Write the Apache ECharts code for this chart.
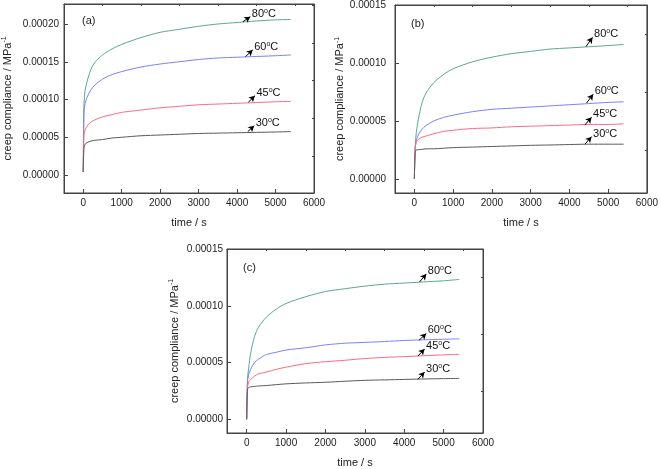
<!DOCTYPE html>
<html>
<head>
<meta charset="utf-8">
<script src="https://cdn.jsdelivr.net/npm/echarts@6/dist/echarts.min.js"></script>
<style>html,body{margin:0;padding:0;background:#fff;}#c{width:661px;height:469px;}</style>
</head>
<body>
<div id="c"></div>
<script>
// ---- data ----
var times = [0, 20, 50, 100, 200, 300, 500, 750, 1000, 1500, 2000, 2500, 3000, 3500, 4000, 4500, 5000, 5400];
var seriesNames = ['80', '60', '45', '30'];

var a80 = [0.000004, 0.000095, 0.000112, 0.000124, 0.000140, 0.000149, 0.000159, 0.000167, 0.000173, 0.000182, 0.000189, 0.000193, 0.000197, 0.000200, 0.000202, 0.000204, 0.0002055, 0.000206];
var a60 = [0.000004, 0.000085, 0.000095, 0.000103, 0.000113, 0.000119, 0.000127, 0.000133, 0.000137, 0.000143, 0.000147, 0.000150, 0.000153, 0.000155, 0.000156, 0.000157, 0.000158, 0.000159];
var a45 = [0.000004, 0.000052, 0.000060, 0.000065, 0.000070, 0.000073, 0.000077, 0.000080, 0.000083, 0.000086, 0.000089, 0.000091, 0.000093, 0.000094, 0.000095, 0.000096, 0.000097, 0.0000975];
var a30 = [0.000004, 0.000036, 0.000041, 0.000043, 0.000045, 0.000046, 0.000047, 0.000049, 0.000050, 0.000052, 0.000053, 0.000054, 0.000055, 0.0000555, 0.000056, 0.0000565, 0.000057, 0.0000575];

var b80 = [0, 0.000028, 0.000040, 0.000051, 0.000066, 0.000074, 0.000083, 0.000090, 0.000095, 0.000101, 0.000105, 0.000108, 0.000110, 0.000112, 0.000113, 0.000114, 0.000115, 0.000116];
var b60 = [0, 0.000026, 0.000033, 0.000038, 0.000043, 0.000046, 0.000050, 0.000053, 0.000055, 0.000058, 0.000060, 0.000061, 0.000062, 0.000063, 0.000064, 0.000065, 0.000066, 0.0000665];
var b45 = [0, 0.000026, 0.000032, 0.000034, 0.000036, 0.000037, 0.000039, 0.000041, 0.000042, 0.0000435, 0.000044, 0.000045, 0.0000455, 0.000046, 0.0000465, 0.000047, 0.000047, 0.0000475];
var b30 = [0, 0.000022, 0.000025, 0.0000252, 0.0000255, 0.000026, 0.000026, 0.0000265, 0.000027, 0.0000275, 0.000028, 0.0000285, 0.000029, 0.0000293, 0.0000297, 0.00003, 0.00003, 0.00003];

var c80 = [0, 0.000035, 0.000045, 0.000058, 0.000073, 0.000081, 0.000090, 0.000097, 0.000102, 0.000108, 0.0001125, 0.000115, 0.0001173, 0.000119, 0.000120, 0.000121, 0.000122, 0.0001232];
var c60 = [0, 0.000033, 0.000039, 0.000044, 0.000050, 0.000053, 0.000057, 0.000059, 0.000061, 0.000063, 0.0000655, 0.000067, 0.0000677, 0.0000685, 0.0000694, 0.000070, 0.0000705, 0.0000708];
var c45 = [0, 0.000027, 0.000033, 0.000035, 0.000038, 0.000040, 0.0000416, 0.000044, 0.0000459, 0.000049, 0.0000507, 0.000052, 0.0000535, 0.0000545, 0.0000552, 0.000056, 0.0000567, 0.0000572];
var c30 = [0, 0.000026, 0.000028, 0.0000285, 0.000029, 0.0000293, 0.0000297, 0.0000305, 0.0000312, 0.000032, 0.0000326, 0.0000335, 0.0000343, 0.0000347, 0.0000351, 0.0000355, 0.0000358, 0.000036];

// annotation arrows: [tFrom, vFrom, tTo, vTo]
var arrowsA = [[4150, 0.000203, 4344, 0.0002097], [4217, 0.0001567, 4406, 0.0001656], [4293, 0.0000965, 4464, 0.000105], [4278, 0.0000575, 4446, 0.0000653]];
var arrowsB = [[4427, 0.0001141, 4598, 0.0001221], [4444, 0.0000655, 4615, 0.000073], [4400, 0.0000466, 4573, 0.0000532], [4400, 0.0000300, 4573, 0.0000365]];
var arrowsC = [[4390, 0.0001210, 4560, 0.000128], [4373, 0.0000695, 4559, 0.0000756], [4347, 0.0000556, 4517, 0.000062], [4347, 0.0000352, 4517, 0.0000416]];

var panelLabels = ['(a)', '(b)', '(c)'];
var xMajor = [0, 1000, 2000, 3000, 4000, 5000, 6000];
var xMinor = [500, 1500, 2500, 3500, 4500, 5500];
var yMajorA = [0, 0.00005, 0.0001, 0.00015, 0.0002];
var yMinorA = [0.000025, 0.000075, 0.000125, 0.000175, 0.000225];
var yMajorBC = [0, 0.00005, 0.0001, 0.00015];
var yMinorBC = [0.000025, 0.000075, 0.000125];

// ---- styling ----
var colors = ['#5aa88a', '#7a80ff', '#ff6a80', '#5a5a5a'];
var FONT = '"Liberation Sans", Arial, sans-serif';
var axisCol = '#444';

var panels = [
  {grid: {left: 60, top: 4, width: 254, height: 189}, ymin: -0.0000238, ymax: 0.0002265, yMajor: yMajorA, yMinor: yMinorA, data: [a80, a60, a45, a30], arrows: arrowsA, yGap: 50, yLabMargin: 5, lab: [82, 22]},
  {grid: {left: 395, top: 5, width: 256, height: 188}, ymin: -0.0000121, ymax: 0.00015, yMajor: yMajorBC, yMinor: yMinorBC, data: [b80, b60, b45, b30], arrows: arrowsB, yGap: 48, yLabMargin: 9, lab: [411, 25]},
  {grid: {left: 227, top: 249, width: 256, height: 191}, ymin: -0.0000121, ymax: 0.00015, yMajor: yMajorBC, yMinor: yMinorBC, data: [c80, c60, c45, c30], arrows: arrowsC, yGap: 46, yLabMargin: 4, lab: [243, 269]}
];

var grids = [], xAxes = [], yAxes = [], series = [], graphics = [];
panels.forEach(function (p, i) {
  grids.push(Object.assign({show: true, borderColor: axisCol, borderWidth: 1, containLabel: false}, p.grid));
  var xBase = {
    type: 'value', gridIndex: i, min: -500, max: 6000,
    axisLine: {show: true, onZero: false, lineStyle: {color: axisCol, width: 1}},
    splitLine: {show: false}
  };
  xAxes.push(Object.assign({}, xBase, {
    name: 'time / s', nameLocation: 'middle', nameGap: 24,
    nameTextStyle: {fontFamily: FONT, fontSize: 11, color: '#222'},
    axisTick: {show: true, inside: true, length: 4, customValues: xMajor, lineStyle: {color: axisCol}},
    axisLabel: {show: true, customValues: xMajor, margin: 5, fontFamily: FONT, fontSize: 10, color: '#222',
      formatter: function (v) { return String(v); }}
  }));
  xAxes.push(Object.assign({}, xBase, {
    axisTick: {show: true, inside: true, length: 2, customValues: xMinor, lineStyle: {color: axisCol}},
    axisLabel: {show: false}
  }));
  var yBase = {
    type: 'value', gridIndex: i, min: p.ymin, max: p.ymax,
    axisLine: {show: true, onZero: false, lineStyle: {color: axisCol, width: 1}},
    splitLine: {show: false}
  };
  yAxes.push(Object.assign({}, yBase, {
    name: 'creep compliance / MPa{sup|-1}', nameLocation: 'middle', nameGap: p.yGap,
    nameTextStyle: {fontFamily: FONT, fontSize: 11, color: '#222',
      rich: {sup: {fontFamily: FONT, fontSize: 7, color: '#222', verticalAlign: 'top', padding: [0, 0, 6, 0]}}},
    axisTick: {show: true, inside: true, length: 4, customValues: p.yMajor, lineStyle: {color: axisCol}},
    axisLabel: {show: true, customValues: p.yMajor, margin: p.yLabMargin, fontFamily: FONT, fontSize: 10, color: '#222',
      formatter: function (v) { return v.toFixed(5); }}
  }));
  yAxes.push(Object.assign({}, yBase, {
    axisTick: {show: true, inside: true, length: 2, customValues: p.yMinor, lineStyle: {color: axisCol}},
    axisLabel: {show: false}
  }));
  p.data.forEach(function (arr, k) {
    var ar = p.arrows[k];
    series.push({
      type: 'line', xAxisIndex: 2 * i, yAxisIndex: 2 * i,
      data: times.map(function (t, j) { return [t, arr[j]]; }),
      showSymbol: false, smooth: 0.3,
      lineStyle: {color: colors[k], width: 1}, itemStyle: {color: colors[k]},
      z: 2, silent: true,
      markLine: {
        silent: true, symbol: ['none', 'arrow'], symbolSize: [5, 6],
        lineStyle: {color: '#000', width: 1, type: 'solid'}, label: {show: false},
        data: [[{coord: [ar[0], ar[1]]}, {coord: [ar[2], ar[3]]}]]
      },
      markPoint: {
        silent: true, symbol: 'circle', symbolSize: 1, itemStyle: {color: 'rgba(0,0,0,0)'},
        label: {show: true, position: 'right', distance: 1, offset: [0, -3],
          formatter: '{n|' + seriesNames[k] + '}{o|o}{n|C}',
          rich: {n: {fontFamily: FONT, fontSize: 11, color: '#111'}, o: {fontFamily: FONT, fontSize: 7, color: '#111', verticalAlign: 'top', padding: [0, 0, 6, 0]}}},
        data: [{coord: [ar[2], ar[3]]}]
      }
    });
  });
  graphics.push({type: 'text', left: p.lab[0], top: p.lab[1] - 7, style: {text: panelLabels[i], font: '11px ' + FONT, fill: '#222'}});
});

var chart = echarts.init(document.getElementById('c'), null, {renderer: 'canvas'});
chart.setOption({
  animation: false,
  backgroundColor: '#fff',
  grid: grids, xAxis: xAxes, yAxis: yAxes, series: series, graphic: graphics
});
</script>
</body>
</html>
